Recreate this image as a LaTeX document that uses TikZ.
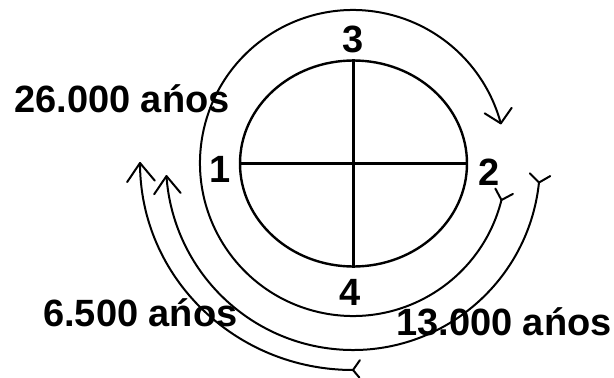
\documentclass[tikz,border=0pt]{standalone}
\usepackage{fontspec}
\setmainfont{Liberation Sans}
\usetikzlibrary{calc,shapes.geometric}
\begin{document}
\begin{tikzpicture}[x=1pt,y=-1pt,
  arcline/.style={line width=2pt, line cap=round, line join=round},
  ring/.style={line width=2.4pt},
  lbl/.style={font=\fontsize{38}{42}\selectfont\bfseries, inner sep=0pt},
]
\useasboundingbox (0,0) rectangle (614,378);
\coordinate (C) at (353,163);
% central disc with cross
\node[draw, ring, ellipse, minimum width=227pt, minimum height=206pt, inner sep=0pt] (disc) at (353.5,163.5) {};
\draw[ring] (disc.west) -- (disc.east);
\draw[ring] (disc.north) -- (disc.south);
% 26.000 arc (full turn)
\coordinate (s26) at ($(C)+(14:153)$);
\coordinate (e26) at ($(C)+(345:153)$);
\draw[arcline] (s26) arc[start angle=14, end angle=345, radius=153];
\draw[arcline] ($(e26)+(212:19)$) -- (e26) -- ($(e26)+(305:19)$);
\draw[arcline] ($(s26)+(-118:13)$) -- (s26) -- ($(s26)+(-28:13)$);
% 13.000 arc (half turn)
\coordinate (s13) at ($(C)+(6:187)$);
\coordinate (e13) at ($(C)+(176:187)$);
\draw[arcline] (s13) arc[start angle=6, end angle=176, radius=187];
\draw[arcline] ($(e13)+(124:22)$) -- (e13) -- ($(e13)+(50:22)$);
\draw[arcline] ($(s13)+(-135:13)$) -- (s13) -- ($(s13)+(-30:13)$);
% 6.500 arc (quarter turn)
\coordinate (s65) at ($(C)+(90:213 and 207)$);
\coordinate (e65) at ($(C)+(180:213 and 207)$);
\draw[arcline] (s65) arc[start angle=90, end angle=180, x radius=213, y radius=207];
\draw[arcline] ($(e65)+(124:23)$) -- (e65) -- ($(e65)+(50:23)$);
\draw[arcline] ($(s65)+(-55:12)$) -- (s65) -- ($(s65)+(50:10)$);
% labels
\node[lbl, anchor=base west] (t26) at (14,112) {26.000 ańos};
\node[lbl, anchor=base west] (t65) at (43,326) {6.500 ańos};
\node[lbl, anchor=base west] (t13) at (396,335) {13.000 ańos};
\node[lbl, anchor=base] (n3) at (353,52) {3};
\node[lbl, anchor=base] (n1) at (220,182) {1};
\node[lbl, anchor=base] (n2) at (489,185) {2};
\node[lbl, anchor=base] (n4) at (350,305) {4};
\end{tikzpicture}
\end{document}
